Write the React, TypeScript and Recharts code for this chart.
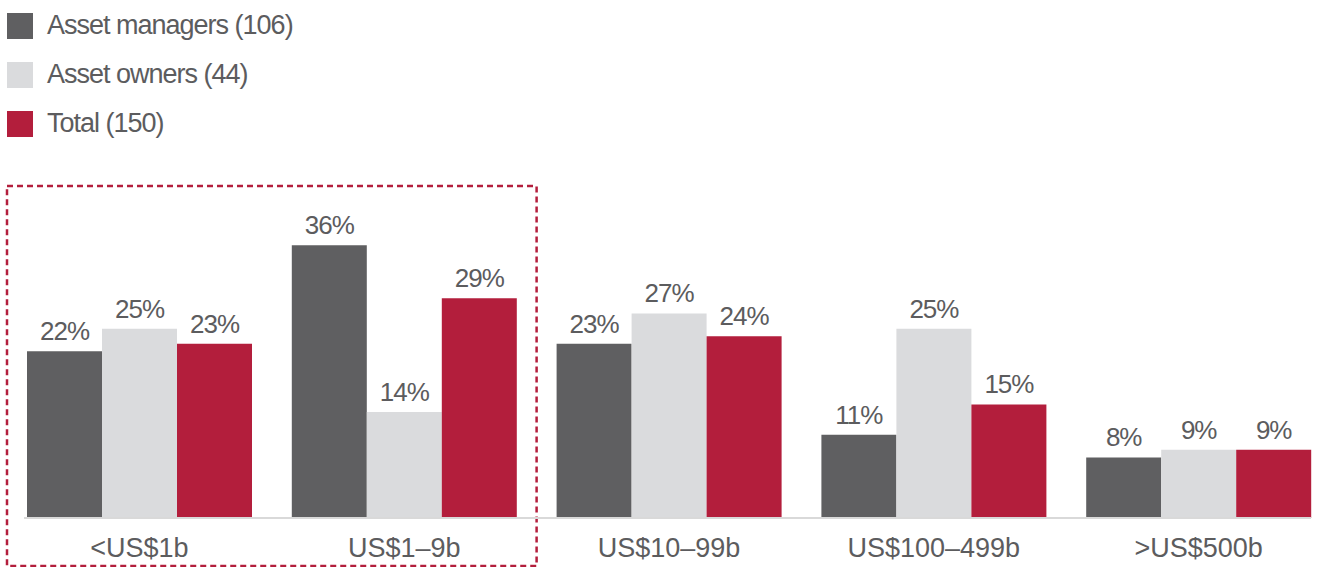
import React from "react";
import { BarChart, Bar, XAxis, YAxis, LabelList, Legend, ReferenceArea } from "recharts";

const CATEGORIES = ["<US$1b", "US$1–9b", "US$10–99b", "US$100–499b", ">US$500b"];
const ASSET_MANAGERS = [22, 36, 23, 11, 8];
const ASSET_OWNERS = [25, 14, 27, 25, 9];
const TOTAL = [23, 29, 24, 15, 9];

const SERIES = [
  { key: "managers", name: "Asset managers (106)", values: ASSET_MANAGERS, color: "#5f5f61" },
  { key: "owners", name: "Asset owners (44)", values: ASSET_OWNERS, color: "#dadbdd" },
  { key: "total", name: "Total (150)", values: TOTAL, color: "#b31e3c" },
];

const FONT = '"Liberation Sans", Arial, sans-serif';
const TEXT = "#5c5c5e";

const data = CATEGORIES.map((c, i) => {
  const row: Record<string, string | number> = { category: c };
  SERIES.forEach((s) => (row[s.key] = s.values[i]));
  return row;
});

function LegendBox() {
  return (
    <div style={{ fontFamily: FONT, fontSize: 27, color: TEXT, letterSpacing: -1 }}>
      {SERIES.map((s) => (
        <div key={s.key} style={{ display: "flex", alignItems: "center", height: 49 }}>
          <span style={{ width: 26, height: 26, background: s.color, marginRight: 14, display: "inline-block" }} />
          <span>{s.name}</span>
        </div>
      ))}
    </div>
  );
}

export default function App() {
  return (
    <div style={{ position: "absolute", left: 0, top: 0, width: 1324, height: 567, overflow: "hidden", background: "#fff" }}>
      <BarChart
        width={1324}
        height={567}
        data={data}
        margin={{ top: 215, right: 13, bottom: 19, left: 24 }}
        barCategoryGap={20}
        barGap={0}
      >
        <XAxis
          dataKey="category"
          height={30}
          padding={{ left: -17, right: -20 }}
          axisLine={{ stroke: "#d9d9d9", strokeWidth: 2 }}
          tickLine={false}
          tickSize={0}
          tickMargin={20}
          tick={{ fill: TEXT, fontSize: 27, fontFamily: FONT }}
          interval={0}
        />
        <YAxis hide domain={[0, 40]} />
        <Legend
          layout="vertical"
          align="center"
          verticalAlign="middle"
          wrapperStyle={{ top: 1, left: 7, width: 400 }}
          content={() => <LegendBox />}
        />
        {SERIES.map((s) => (
          <Bar key={s.key} dataKey={s.key} name={s.name} fill={s.color} isAnimationActive={false}>
            <LabelList
              dataKey={s.key}
              position="top"
              offset={11}
              formatter={(v: number) => `${v}%`}
              style={{ fill: TEXT, fontSize: 26, fontFamily: FONT, letterSpacing: -1 }}
            />
          </Bar>
        ))}
        <ReferenceArea
          x1="<US$1b"
          x2="US$1–9b"
          y1={-6.34}
          y2={43.83}
          ifOverflow="visible"
          fill="none"
          stroke="#b31e3c"
          strokeWidth={2.5}
          strokeDasharray="6 4"
        />
      </BarChart>
    </div>
  );
}
